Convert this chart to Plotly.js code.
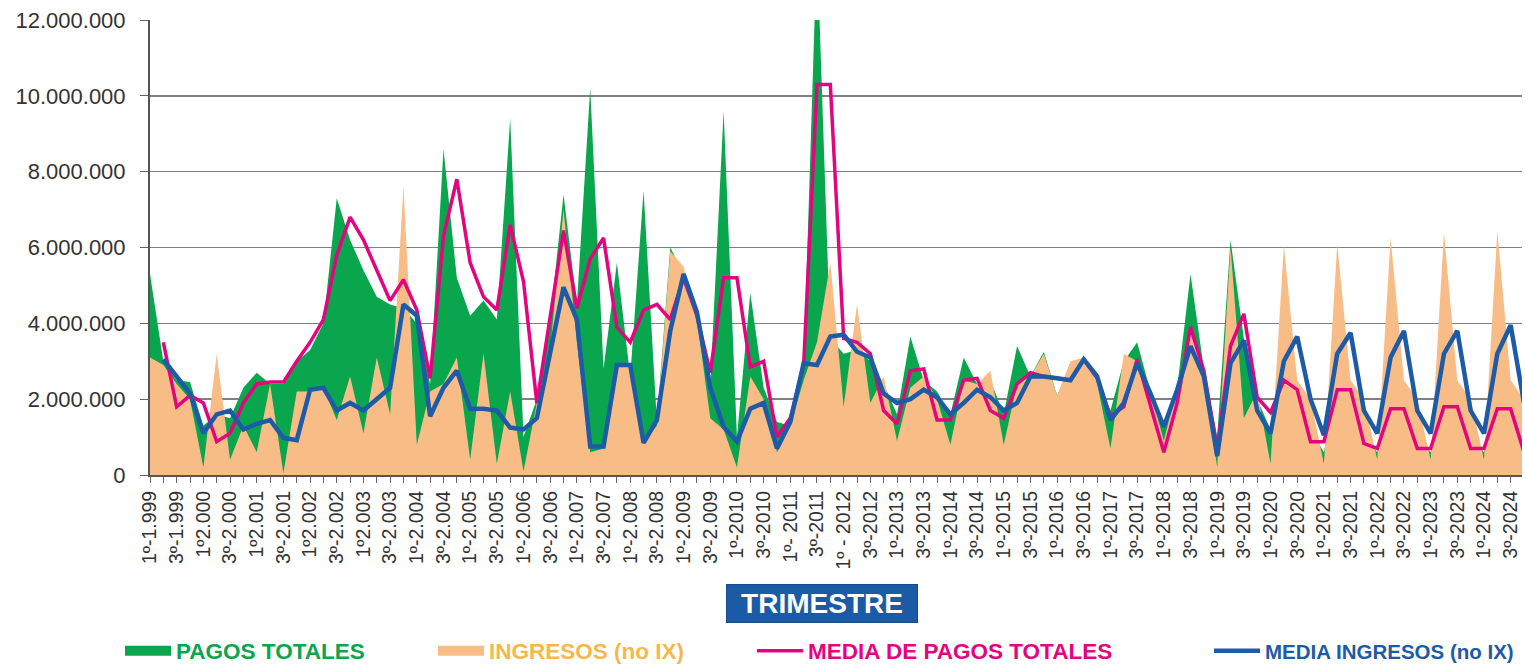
<!DOCTYPE html>
<html>
<head>
<meta charset="utf-8">
<script src="https://cdn.plot.ly/plotly-3.0.1.min.js"></script>
<style>html,body{margin:0;padding:0;background:#fff;}#chart{width:1525px;height:664px;}</style>
</head>
<body>
<div id="chart"></div>
<script>
// Tick labels (every second quarter, 1º-1999 ... 3º-2024)
const tickLabels = ["1º-1.999","3º-1.999","1º2.000","3º-2.000","1º2.001","3º-2.001","1º2.002","3º-2.002","1º2.003","3º-2.003",
  "1º-2.004","3º-2.004","1º-2.005","3º-2.005","1º-2.006","3º-2.006","1º-2.007","3º-2.007","1º-2.008","3º-2.008",
  "1º-2.009","3º-2.009","1º-2010","3º-2010","1º- 2011","3º-2011","1º - 2012","3º-2012","1º-2013","3º-2013",
  "1º-2014","3º-2014","1º-2015","3º-2015","1º-2016","3º-2016","1º-2017","3º-2017","1º-2018","3º-2018",
  "1º-2019","3º-2019","1º-2020","3º-2020","1º-2021","3º-2021","1º-2022","3º-2022","1º-2023","3º-2023",
  "1º-2024","3º-2024"];

// Quarterly values, in millions (1T-1999 ... 4T-2024)
const pagosTotales = [5.3,3.0,2.5,2.45,1.3,1.6,1.5,2.3,2.7,2.4,2.4,3.0,3.3,4.0,7.3,6.2,5.4,4.7,4.5,4.4,
  4.0,2.4,8.6,5.2,4.2,4.6,4.1,9.4,1.0,2.0,4.1,7.4,4.5,10.2,2.8,5.6,2.6,7.5,1.4,6.0,
  5.3,4.0,2.4,9.6,1.0,4.8,2.3,1.4,1.3,2.9,14.0,3.6,3.2,3.3,3.0,2.4,1.6,3.65,2.5,2.2,
  1.6,3.1,2.4,2.5,1.6,3.4,2.6,3.25,2.1,2.9,3.1,2.4,1.7,3.0,3.5,2.2,1.3,2.3,5.3,2.8,
  1.0,6.2,3.6,2.0,1.2,2.5,2.2,1.2,0.6,2.4,2.2,1.0,0.6,2.3,2.2,1.0,0.6,2.3,2.2,1.0,
  0.6,2.3,2.2,1.0];
const ingresosNoIX = [3.1,2.9,2.4,2.0,0.2,3.2,0.4,1.3,0.6,2.4,0.05,2.2,2.2,2.3,1.45,2.6,1.1,3.1,1.6,7.6,
  0.8,2.2,2.4,3.1,0.4,3.2,0.3,2.2,0.1,1.9,3.3,7.0,3.5,0.6,0.7,2.9,2.9,0.9,1.3,5.9,
  5.5,4.1,1.5,1.2,0.2,2.6,2.0,0.6,1.3,2.5,3.5,5.6,1.8,4.5,1.9,2.6,0.9,2.3,2.6,2.0,
  0.8,2.5,2.4,2.75,0.8,2.4,2.6,3.2,2.1,3.0,3.1,2.4,0.7,3.2,3.0,2.2,0.9,2.3,3.9,2.7,
  0.2,6.0,1.5,2.2,0.3,6.05,2.5,2.0,0.3,6.1,2.5,2.0,0.4,6.25,2.5,2.0,0.4,6.4,2.5,2.0,
  0.4,6.45,2.5,2.0];
const mediaPagosTotales = [null,3.5,1.8,2.1,1.9,0.88,1.1,1.9,2.4,2.45,2.45,3.0,3.5,4.1,5.8,6.8,6.2,5.4,4.6,5.15,
  4.35,2.55,6.3,7.8,5.6,4.7,4.35,6.6,5.1,1.9,4.2,6.45,4.4,5.7,6.25,3.9,3.5,4.35,4.5,4.1,
  5.2,4.2,2.7,5.2,5.2,2.85,3.0,1.0,1.5,2.9,10.3,10.3,3.6,3.5,3.2,1.7,1.35,2.75,2.8,1.45,
  1.45,2.5,2.55,1.7,1.5,2.4,2.7,2.6,2.55,2.5,3.05,2.55,1.55,1.8,3.05,1.8,0.6,1.9,3.9,2.75,
  0.7,3.4,4.25,2.05,1.65,2.5,2.25,0.88,0.88,2.25,2.25,0.83,0.7,1.75,1.75,0.7,0.7,1.8,1.8,0.7,
  0.7,1.75,1.75,0.6];
const mediaIngresos = [null,3.05,2.6,2.15,1.1,1.6,1.7,1.2,1.35,1.45,0.98,0.92,2.25,2.3,1.7,1.9,1.7,2.0,2.3,4.5,
  4.2,1.55,2.3,2.75,1.75,1.75,1.7,1.25,1.2,1.5,3.2,4.95,4.1,0.75,0.75,2.9,2.9,0.85,1.45,3.8,
  5.3,4.3,2.3,1.27,0.88,1.75,1.9,0.7,1.4,2.95,2.9,3.65,3.7,3.25,3.1,2.15,1.9,2.0,2.25,2.05,
  1.6,1.9,2.25,2.05,1.7,1.9,2.6,2.6,2.55,2.5,3.05,2.6,1.45,1.9,2.95,2.15,1.27,2.25,3.4,2.6,
  0.5,2.95,3.55,1.7,1.1,3.0,3.65,2.0,1.05,3.2,3.75,1.7,1.1,3.1,3.8,1.7,1.1,3.2,3.8,1.7,
  1.1,3.2,3.95,1.9];

const seriesNames = ["PAGOS TOTALES","INGRESOS (no IX)","MEDIA DE PAGOS TOTALES","MEDIA INGRESOS (no IX)"];
const UNIT = 1e6;
const toUnits = arr => arr.map(v => v === null ? null : v * UNIT);
const xIdx = pagosTotales.map((_, i) => i);
const tickVals = tickLabels.map((_, i) => i * 2);

const C_GREEN = '#0aa64e', C_ORANGE = '#f8bd87', C_MAG = '#e2057f', C_BLUE = '#1d5ba6';

const traces = [
  {x: xIdx, y: toUnits(pagosTotales), type: 'scatter', mode: 'lines', fill: 'tozeroy',
   fillcolor: C_GREEN, line: {width: 0, color: C_GREEN}, showlegend: false, hoverinfo: 'skip'},
  {x: xIdx, y: toUnits(ingresosNoIX), type: 'scatter', mode: 'lines', fill: 'tozeroy',
   fillcolor: C_ORANGE, line: {width: 0, color: C_ORANGE}, showlegend: false, hoverinfo: 'skip'},
  {x: xIdx, y: toUnits(mediaPagosTotales), type: 'scatter', mode: 'lines', name: seriesNames[2],
   line: {width: 3.5, color: C_MAG}, legend: 'legend3', hoverinfo: 'skip'},
  {x: xIdx, y: toUnits(mediaIngresos), type: 'scatter', mode: 'lines', name: seriesNames[3],
   line: {width: 4.5, color: C_BLUE}, legend: 'legend4', hoverinfo: 'skip'},
  // legend keys for the two areas
  {x: [null], y: [null], type: 'scatter', mode: 'lines', name: seriesNames[0],
   line: {width: 12, color: C_GREEN}, legend: 'legend'},
  {x: [null], y: [null], type: 'scatter', mode: 'lines', name: seriesNames[1],
   line: {width: 12, color: C_ORANGE}, legend: 'legend2'}
];

const W = 1525, H = 664, ML = 150, MR = 3, MT = 20, MB = 189;
const pw = W - ML - MR, ph = H - MT - MB;
const px = v => (v - ML) / pw;
const py = v => (H - MB - v) / ph;

const legFont = (c, s) => ({family: 'Liberation Sans, Arial, sans-serif', size: s, color: c, weight: 'bold'});
const legBase = (xpx, c, s) => ({x: px(xpx), xanchor: 'left', y: py(651), yanchor: 'middle', orientation: 'h',
  bgcolor: 'rgba(0,0,0,0)', borderwidth: 0, itemwidth: 46, font: legFont(c, s), itemclick: false, itemdoubleclick: false});

const layout = {
  width: W, height: H,
  margin: {l: ML, r: MR, t: MT, b: MB, autoexpand: false},
  paper_bgcolor: '#ffffff', plot_bgcolor: '#ffffff',
  separators: ',.',
  font: {family: 'Liberation Sans, Arial, sans-serif', color: '#333'},
  showlegend: true,
  xaxis: {
    range: [0, 102.85], tickmode: 'array', tickvals: tickVals, ticktext: tickLabels,
    tickangle: -90, tickfont: {size: 19.5, color: '#333'},
    ticks: 'outside', ticklen: 6, tickcolor: '#666', tickwidth: 1,
    minor: {tickmode: 'linear', tick0: 0, dtick: 1, ticks: 'outside', ticklen: 6, tickcolor: '#666', showgrid: false},
    showline: true, linecolor: '#555', linewidth: 2, showgrid: false, zeroline: false,
    automargin: false, fixedrange: true
  },
  yaxis: {
    range: [0, 12e6], tickmode: 'array', tickvals: [0, 2e6, 4e6, 6e6, 8e6, 10e6, 12e6],
    tickformat: ',d', tickfont: {size: 22, color: '#333'}, ticklabelstandoff: 10,
    ticks: 'outside', ticklen: 8, tickcolor: '#666',
    showline: true, linecolor: '#555', linewidth: 2,
    showgrid: true, gridcolor: '#808080', gridwidth: 1.5, zeroline: false,
    automargin: false, fixedrange: true
  },
  legend: legBase(120, C_GREEN, 22.5),
  legend2: legBase(433, '#f5b84a', 22.5),
  legend3: legBase(752, C_MAG, 22.5),
  legend4: legBase(1209, C_BLUE, 20.5),
  annotations: [{
    text: 'TRIMESTRE', xref: 'paper', yref: 'paper', x: px(822), y: py(603),
    xanchor: 'center', yanchor: 'middle', showarrow: false,
    font: {family: 'Liberation Sans, Arial, sans-serif', size: 28, color: '#ffffff', weight: 'bold'},
    bgcolor: '#1b5aa5', bordercolor: '#164a8a', borderwidth: 1, borderpad: 3, width: 184, height: 31
  }]
};

Plotly.newPlot('chart', traces, layout, {staticPlot: true, displayModeBar: false});
</script>
</body>
</html>
